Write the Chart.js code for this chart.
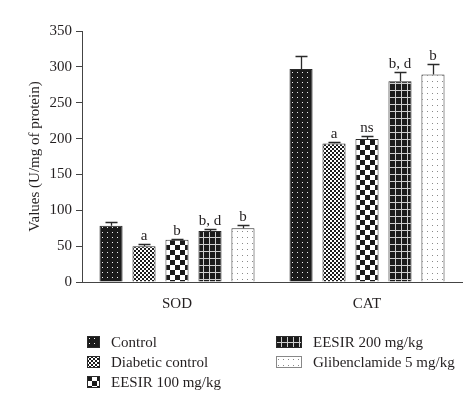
<!DOCTYPE html>
<html><head><meta charset="utf-8">
<script src="https://cdn.jsdelivr.net/npm/chart.js@4"></script>
<style>
html,body{margin:0;padding:0;background:#fff;}
#wrap{position:relative;width:476px;height:401px;overflow:hidden;}
#c{position:absolute;left:0;top:0;}
.leg{position:absolute;height:18px;font-family:"Liberation Serif",serif;font-size:15px;color:#231f20;display:flex;align-items:center;white-space:nowrap;}
.leg canvas{display:block;}
</style></head>
<body><div id="wrap"><canvas id="c" width="476" height="401"></canvas></div>
<script>
const categories = ['SOD', 'CAT'];
const seriesNames = ['Control', 'Diabetic control', 'EESIR 100 mg/kg', 'EESIR 200 mg/kg', 'Glibenclamide 5 mg/kg'];
const controlValues = [78.5, 297];
const diabeticValues = [50, 193];
const eesir100Values = [59, 199.5];
const eesir200Values = [71, 280];
const glibValues = [75, 289.5];
const controlErr = [5, 18.5];
const diabeticErr = [2.5, 2];
const eesir100Err = [1, 4.5];
const eesir200Err = [3, 12.5];
const glibErr = [5, 14.5];
const controlMarks = ['', ''];
const diabeticMarks = ['a', 'a'];
const eesir100Marks = ['b', 'ns'];
const eesir200Marks = ['b, d', 'b, d'];
const glibMarks = ['b', 'b'];
const yTicks = [0, 50, 100, 150, 200, 250, 300, 350];

function mk(w, h, draw) {
  const cv = document.createElement('canvas'); cv.width = w; cv.height = h;
  const g = cv.getContext('2d'); draw(g); return cv;
}
const tiles = [
  mk(5, 5, g => { g.fillStyle = '#1b1b1b'; g.fillRect(0,0,5,5); g.fillStyle = '#f2f2f2'; g.fillRect(2,2,1,1); }),
  mk(4, 4, g => { g.fillStyle = '#fff'; g.fillRect(0,0,4,4); g.fillStyle = '#1b1b1b'; g.fillRect(0,0,2,2); g.fillRect(2,2,2,2); }),
  mk(10, 10, g => { g.fillStyle = '#fff'; g.fillRect(0,0,10,10); g.fillStyle = '#1b1b1b'; g.fillRect(0,0,5,5); g.fillRect(5,5,5,5); }),
  mk(6, 7, g => { g.fillStyle = '#1b1b1b'; g.fillRect(0,0,6,7); g.fillStyle = '#cfcfcf'; g.fillRect(5,0,1,7); g.fillRect(0,6,6,1); }),
  mk(5, 6, g => { g.fillStyle = '#fff'; g.fillRect(0,0,5,6); g.fillStyle = '#8a8a8a'; g.fillRect(2,3,1,1); })
];
const ctx = document.getElementById('c').getContext('2d');
const pats = tiles.map(t => ctx.createPattern(t, 'repeat'));

const valuesList = [controlValues, diabeticValues, eesir100Values, eesir200Values, glibValues];
const errList = [controlErr, diabeticErr, eesir100Err, eesir200Err, glibErr];
const marksList = [controlMarks, diabeticMarks, eesir100Marks, eesir200Marks, glibMarks];
const FONT = '"Liberation Serif", serif';

const errPlugin = {
  id: 'errbars',
  afterDatasetsDraw(chart) {
    const g = chart.ctx, ys = chart.scales.y;
    g.save();
    chart.data.datasets.forEach((ds, di) => {
      const meta = chart.getDatasetMeta(di);
      meta.data.forEach((el, i) => {
        const v = ds.data[i], e = errList[di][i];
        const yT = Math.round(ys.getPixelForValue(v + e)) + 0.5;
        const x = Math.round(el.x) + 0.5;
        g.strokeStyle = '#2a2a2a'; g.lineWidth = 1.3;
        g.beginPath(); g.moveTo(x, el.y); g.lineTo(x, yT);
        g.moveTo(x - 6, yT); g.lineTo(x + 6, yT); g.stroke();
        const m = marksList[di][i];
        if (m) {
          g.fillStyle = '#231f20'; g.font = '15px ' + FONT;
          g.textAlign = 'center'; g.textBaseline = 'alphabetic';
          g.fillText(m, el.x, yT - 5);
        }
      });
    });
    g.restore();
  }
};

new Chart(ctx, {
  type: 'bar',
  data: {
    labels: categories,
    datasets: seriesNames.map((n, i) => ({
      label: n, data: valuesList[i], backgroundColor: pats[i],
      borderColor: '#2a2a2a', borderWidth: 1,
      categoryPercentage: 0.868, barPercentage: 0.7
    }))
  },
  options: {
    responsive: false, animation: false, devicePixelRatio: 1,
    layout: { padding: { left: 0, right: 14, top: 31, bottom: 0 } },
    plugins: { legend: { display: false }, tooltip: { enabled: false } },
    scales: {
      x: {
        grid: { display: false }, border: { display: true, color: '#444', width: 1 },
        ticks: { color: '#231f20', font: { family: FONT, size: 15 }, padding: 5 },
        afterFit(s) { s.height = 119; }
      },
      y: {
        min: 0, max: 350,
        afterBuildTicks(s) { s.ticks = yTicks.map(v => ({ value: v })); },
        grid: { drawOnChartArea: false, drawTicks: true, tickLength: 6, color: '#444' },
        border: { display: true, color: '#444', width: 1 },
        ticks: { color: '#231f20', font: { family: FONT, size: 15 }, padding: 4 },
        title: { display: true, text: 'Values (U/mg of protein)', color: '#231f20', font: { family: FONT, size: 15 }, padding: { top: 26, bottom: 0 } },
        afterFit(s) { s.width = 82; }
      }
    }
  },
  plugins: [errPlugin]
});

// legend
const legPos = [
  { x: 87, y: 342, w: 13, tx: 111 },
  { x: 87, y: 362, w: 13, tx: 111 },
  { x: 87, y: 382, w: 13, tx: 111 },
  { x: 276, y: 342, w: 26, tx: 313 },
  { x: 276, y: 362, w: 26, tx: 313 }
];
const wrap = document.getElementById('wrap');
seriesNames.forEach((n, i) => {
  const p = legPos[i];
  const d = document.createElement('div'); d.className = 'leg';
  d.style.left = p.x + 'px'; d.style.top = (p.y - 9) + 'px';
  const sw = document.createElement('canvas'); sw.width = p.w; sw.height = 12;
  const sg = sw.getContext('2d');
  sg.fillStyle = sg.createPattern(tiles[i], 'repeat'); sg.fillRect(0, 0, p.w, 12);
  sg.strokeStyle = i === 4 ? '#888' : '#2a2a2a'; sg.lineWidth = 1; sg.strokeRect(0.5, 0.5, p.w - 1, 11);
  d.appendChild(sw);
  const t = document.createElement('span'); t.textContent = n;
  t.style.marginLeft = (p.tx - p.x - p.w) + 'px';
  d.appendChild(t);
  wrap.appendChild(d);
});
</script>
</body></html>
